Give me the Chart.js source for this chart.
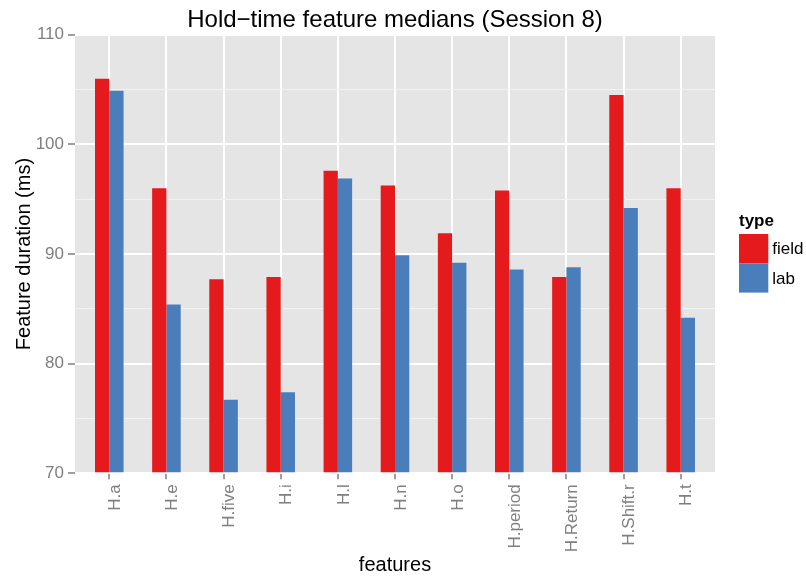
<!DOCTYPE html>
<html>
<head>
<meta charset="utf-8">
<script src="https://cdn.jsdelivr.net/npm/chart.js@4.4.1/dist/chart.umd.min.js"></script>
<style>
  html, body { margin: 0; padding: 0; background: #fff; }
</style>
</head>
<body>
<canvas id="chart" width="806" height="580"></canvas>
<script>
const features = ["H.a", "H.e", "H.five", "H.i", "H.l", "H.n", "H.o", "H.period", "H.Return", "H.Shift.r", "H.t"];
const fieldMedians = [106.0, 96.0, 87.7, 87.9, 97.6, 96.25, 91.9, 95.8, 87.9, 104.5, 96.0];
const labMedians = [104.9, 85.4, 76.7, 77.4, 96.9, 89.9, 89.2, 88.6, 88.8, 94.2, 84.2];
const types = ["field", "lab"];
const typeColors = ["#E41A1C", "#4A7EBB"];

const FONT = "'Liberation Sans', Arial, Helvetica, sans-serif";
Chart.defaults.font.family = FONT;

// grey panel like ggplot's theme_grey
const panelBg = {
  id: "panelBg",
  beforeDraw(chart) {
    const {ctx, chartArea: a} = chart;
    ctx.save();
    ctx.fillStyle = "#E5E5E5";
    ctx.fillRect(a.left, a.top, a.right - a.left, a.bottom - a.top);
    ctx.restore();
  }
};

// legend on the right with a bold "type" heading
const typeLegend = {
  id: "typeLegend",
  afterDraw(chart) {
    const ctx = chart.ctx;
    const x = chart.chartArea.right + 24;
    const top = 234;
    const key = 29.3;
    ctx.save();
    ctx.textBaseline = "middle";
    ctx.fillStyle = "#000";
    ctx.font = "bold 17px " + FONT;
    ctx.fillText("type", x, 221);
    chart.data.datasets.forEach((ds, i) => {
      ctx.fillStyle = ds.backgroundColor;
      ctx.fillRect(x, top + i * key, key, key);
      ctx.fillStyle = "#000";
      ctx.font = "17px " + FONT;
      ctx.fillText(ds.label, x + key + 4, top + i * key + key / 2 + 1);
    });
    ctx.restore();
  }
};

new Chart(document.getElementById("chart").getContext("2d"), {
  type: "bar",
  data: {
    labels: features,
    datasets: [
      {label: types[0], data: fieldMedians, backgroundColor: typeColors[0], base: 70},
      {label: types[1], data: labMedians, backgroundColor: typeColors[1], base: 70}
    ]
  },
  options: {
    responsive: false,
    animation: false,
    devicePixelRatio: 1,
    layout: {padding: {left: 0, right: 91, top: 0, bottom: 0}},
    datasets: {bar: {categoryPercentage: 0.5, barPercentage: 1, borderWidth: 0}},
    plugins: {
      legend: {display: false},
      tooltip: {enabled: false},
      title: {
        display: true,
        text: "Hold\u2212time feature medians (Session 8)",
        fullSize: false,
        color: "#000",
        font: {size: 24, weight: "normal"},
        padding: {top: 6, bottom: 0}
      }
    },
    scales: {
      x: {
        grid: {
          offset: false,
          color: "#FFFFFF",
          lineWidth: 2,
          tickColor: "#7F7F7F",
          tickWidth: 1.5,
          tickLength: 6
        },
        border: {display: false},
        ticks: {
          color: "#7F7F7F",
          font: {size: 17},
          maxRotation: 90,
          minRotation: 90,
          padding: 5,
          labelOffset: 6,
          autoSkip: false
        },
        title: {display: true, text: "features", color: "#000", font: {size: 20}, padding: {top: 0, bottom: 3}},
        // ggplot keeps 0.6 of a category free at each end
        afterBuildTicks(scale) {
          scale._startValue = -0.6;
          scale._valueRange = features.length + 0.2;
        },
        afterFit(scale) { scale.height = 106.7; }
      },
      y: {
        min: 70,
        max: 110,
        ticks: {
          stepSize: 5,
          color: "#7F7F7F",
          font: {size: 17},
          padding: 4,
          callback: v => (v % 10 === 0 ? v : "")
        },
        grid: {
          color: c => (c.tick.value % 10 === 0 ? "#FFFFFF" : "#F2F2F2"),
          lineWidth: c => (c.tick.value % 10 === 0 ? 2 : 1),
          tickColor: c => (c.tick.value % 10 === 0 ? "#7F7F7F" : "rgba(0,0,0,0)"),
          tickWidth: 1.5,
          tickLength: 7
        },
        border: {display: false},
        title: {display: true, text: "Feature duration (ms)", color: "#000", font: {size: 20}, padding: {top: 12, bottom: 0}},
        afterFit(scale) { scale.width = 75; }
      }
    }
  },
  plugins: [panelBg, typeLegend]
});
</script>
</body>
</html>
